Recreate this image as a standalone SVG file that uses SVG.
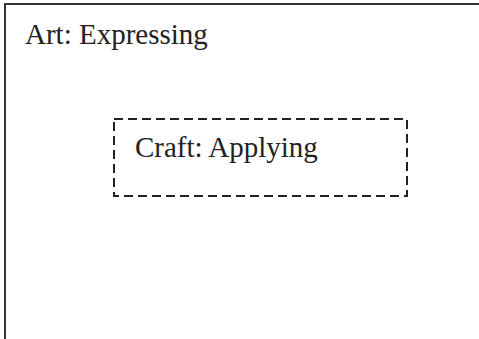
<svg xmlns="http://www.w3.org/2000/svg" width="479" height="339" viewBox="0 0 479 339">
<style>
.lbl{font-family:"Liberation Serif","Times New Roman",serif;font-size:29px;fill:#222}
.outer{fill:none;stroke:#333;stroke-width:2}
.inner{fill:none;stroke:#222;stroke-width:2;stroke-dasharray:9 5}
</style>
<rect width="479" height="339" fill="#fff"/>
<g id="art">
<rect class="outer" x="5" y="4" width="490" height="350"/>
<text class="lbl" x="25" y="44">Art: Expressing</text>
</g>
<g id="craft">
<rect class="inner" x="114" y="119" width="293" height="77"/>
<text class="lbl" x="135" y="157">Craft: Applying</text>
</g>
<g id="connectors"/>
</svg>
